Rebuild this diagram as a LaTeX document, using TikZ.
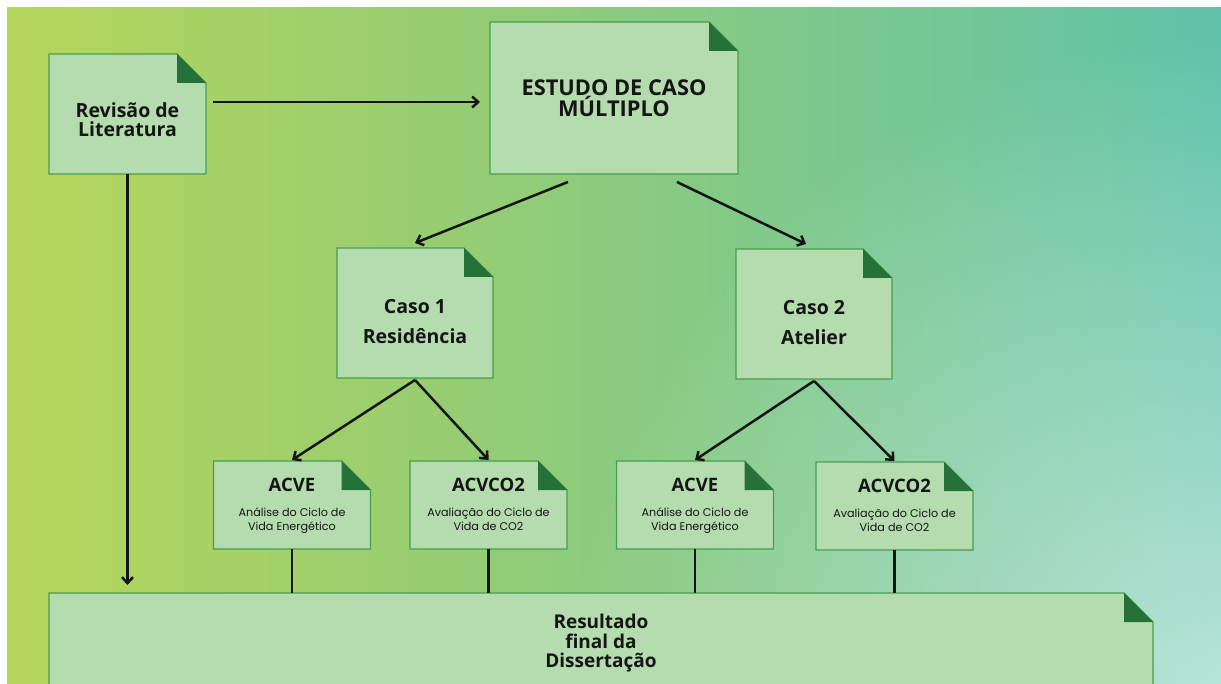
\documentclass[tikz,border=0pt]{standalone}
\usepackage{fontspec}
\usetikzlibrary{arrows.meta,fadings}
\newfontfamily\headfont{Open Sans}
\newfontfamily\notefont{Poppins}
\definecolor{meadowA}{HTML}{B6D65A}
\definecolor{meadowB}{HTML}{97CD72}
\definecolor{meadowC}{HTML}{7AC890}
\definecolor{meadowD}{HTML}{5FC3A9}
\definecolor{paperfill}{HTML}{B5DCAE}
\definecolor{paperline}{HTML}{449E4E}
\definecolor{foldgreen}{HTML}{26713A}
\definecolor{ink}{HTML}{151515}
\pgfdeclarehorizontalshading{meadow}{100bp}{color(0bp)=(meadowA); color(25bp)=(meadowA); color(43bp)=(meadowB); color(60bp)=(meadowC); color(75bp)=(meadowD); color(100bp)=(meadowD)}
\tikzfading[name=glow, inner color=transparent!0, outer color=transparent!100]
\pgfdeclarelayer{backdrop}
\pgfsetlayers{backdrop,main}
\newcommand\revfont{\fontsize{19.5}{19}\headfont\bfseries}
\newcommand\estfont{\fontsize{21.8}{21}\headfont\bfseries}
\newcommand\casofont{\fontsize{19.5}{30}\headfont\bfseries}
\newcommand\resfont{\fontsize{19}{19.5}\headfont\bfseries}
\newcommand\acvfont{\fontsize{18.5}{18}\headfont\bfseries}
\newcommand\paperbox[1]{%
  \filldraw[paper] (#1.south west) -- (#1.north west) -- ([xshift=-29pt]#1.north east)
    -- ([yshift=-29pt]#1.north east) -- (#1.south east) -- cycle;
  \fill[foldgreen] ([xshift=-29pt]#1.north east) -- ([xshift=-29pt,yshift=-29pt]#1.north east)
    -- ([yshift=-29pt]#1.north east) -- cycle;}
\tikzset{
  paper/.style={fill=paperfill,draw=paperline,line width=1.3pt},
  sheet/.style={inner sep=0pt,outer sep=0pt,align=center,text=ink,text depth=0pt},
  acvsheet/.style={sheet,minimum width=157pt,minimum height=88pt,text height=50pt,font=\notefont\fontsize{11.2}{14}\selectfont},
  arr/.style={draw=ink,line width=2.5pt,-{Straight Barb[length=6pt,width=11pt]}},
  link/.style={draw=ink,line width=2.5pt}
}
\begin{document}
\begin{tikzpicture}[x=1pt,y=-1pt]
  \useasboundingbox (0,0) rectangle (1221,684);
  \node[sheet,minimum width=157pt,minimum height=120pt,text height=45pt,font=\revfont] (rev) at (127.5,114) {Revisão de\\Literatura};
  \node[sheet,minimum width=248pt,minimum height=152pt,text height=37pt,font=\estfont] (est) at (614,98) {ESTUDO DE CASO\\MÚLTIPLO};
  \node[sheet,minimum width=156pt,minimum height=130pt,text height=61pt,font=\casofont] (caso1) at (415,313) {Caso 1\\Residência};
  \node[sheet,minimum width=156pt,minimum height=130pt,text height=61pt,font=\casofont] (caso2) at (814,314) {Caso 2\\Atelier};
  \node[acvsheet] (acve1) at (292,505) {{\acvfont ACVE}\\[11pt]Análise do Ciclo de\\Vida Energético};
  \node[acvsheet] (acvco1) at (488.5,505) {{\acvfont ACVCO2}\\[11pt]Avaliação do Ciclo de\\Vida de CO2};
  \node[acvsheet] (acve2) at (695,505) {{\acvfont ACVE}\\[11pt]Análise do Ciclo de\\Vida Energético};
  \node[acvsheet] (acvco2) at (894.5,506) {{\acvfont ACVCO2}\\[11pt]Avaliação do Ciclo de\\Vida de CO2};
  \node[sheet,minimum width=1104pt,minimum height=93pt,text height=56pt,font=\resfont] (res) at (601,639.5) {Resultado\\final da\\Dissertação};
  \begin{pgfonlayer}{backdrop}
    \fill[white] (0,0) rectangle (1221,684);
    \shade[shading=meadow] (7,8) rectangle (1221,684);
    \fill[white,opacity=.55,path fading=glow,fit fading=true] (1221,684) circle (650);
    \foreach \b in {rev,est,caso1,caso2,acve1,acvco1,acve2,acvco2,res} {\paperbox{\b}}
  \end{pgfonlayer}
  \draw[arr] ([xshift=7pt,yshift=12pt]rev.east) -- ([xshift=-10pt,yshift=-4pt]est.west);
  \draw[arr,shorten >=8pt] (rev.south) -- (rev.south |- res.north);
  \draw[arr] ([xshift=-46pt,yshift=-8pt]est.south) -- ([yshift=5pt]caso1.north);
  \draw[arr] ([xshift=63pt,yshift=-8pt]est.south) -- ([xshift=-8pt,yshift=5pt]caso2.north);
  \foreach \a/\b in {caso1/acve1,caso1/acvco1,caso2/acve2,caso2/acvco2}
    \draw[arr] ([yshift=-2pt]\a.south) -- ([yshift=1pt]\b.north);
  \foreach \b in {acve1,acvco1,acve2,acvco2}
    \draw[link] (\b.south) -- (\b.south |- res.north);
\end{tikzpicture}
\end{document}
